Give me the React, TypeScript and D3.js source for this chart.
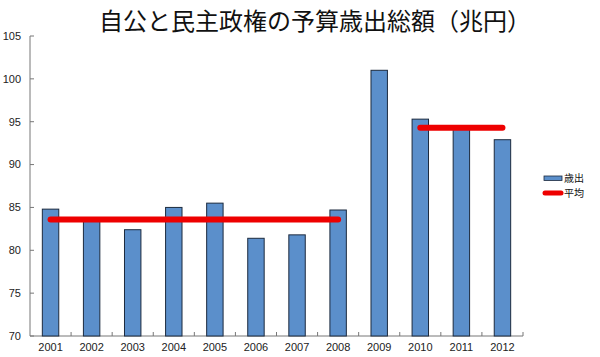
import React from "react";
import * as d3 from "d3";

const years = ["2001","2002","2003","2004","2005","2006","2007","2008","2009","2010","2011","2012"];
const spending = [84.8, 83.7, 82.4, 85.0, 85.5, 81.4, 81.8, 84.7, 101.0, 95.3, 94.3, 92.9];
const avgSegments = [
  { from: "2001", to: "2008", value: 83.6 },
  { from: "2010", to: "2012", value: 94.3 },
];
const yTicks = [70, 75, 80, 85, 90, 95, 100, 105];
const title = "自公と民主政権の予算歳出総額（兆円）";
const legendBar = "歳出";
const legendLine = "平均";

export default function App() {
  const W = 600, H = 357;
  const left = 30, right = 523, top = 36, bottom = 336;
  const x = d3.scaleBand<string>().domain(years).range([left, right]).paddingInner(0.6).paddingOuter(0.3);
  const xb = d3.scaleBand<string>().domain(years).range([left, right]);
  const y = d3.scaleLinear().domain([70, 105]).range([bottom, top]);
  const font = "'Liberation Sans', Arial, sans-serif";
  const cjk = "'Noto Sans CJK JP', sans-serif";
  return (
    <svg width={W} height={H} style={{ position: "absolute", left: 0, top: 0, background: "#fff" }}>
      <rect width={W} height={H} fill="#fff" />
      <text x={315} y={30} textAnchor="middle" fontSize={24} fontFamily={cjk} fill="#111">{title}</text>
      {/* axes */}
      <line x1={left} x2={left} y1={top} y2={bottom} stroke="#777" strokeWidth={1} />
      <line x1={left} x2={right} y1={bottom} y2={bottom} stroke="#777" strokeWidth={1} />
      {yTicks.map(t => (
        <g key={t}>
          <line x1={left} x2={left + 4} y1={y(t)} y2={y(t)} stroke="#777" />
          <text x={21} y={y(t)} dy="0.35em" textAnchor="end" fontSize={11} fontFamily={font} fill="#222">{t}</text>
        </g>
      ))}
      {years.map((yr) => (
        <g key={yr}>
          <line x1={(xb(yr) as number) + xb.bandwidth()} x2={(xb(yr) as number) + xb.bandwidth()} y1={bottom} y2={bottom - 4} stroke="#777" />
          <text x={(xb(yr) as number) + xb.bandwidth() / 2} y={bottom + 15} textAnchor="middle" fontSize={11} fontFamily={font} fill="#222">{yr}</text>
        </g>
      ))}
      {spending.map((v, i) => (
        <rect key={i} x={x(years[i])} y={y(v)} width={x.bandwidth()} height={bottom - y(v)}
          fill="#5b8fcb" stroke="#1c2a3e" strokeWidth={1} />
      ))}
      {avgSegments.map((s, i) => (
        <line key={i}
          x1={(xb(s.from) as number) + xb.bandwidth() / 2}
          x2={(xb(s.to) as number) + xb.bandwidth() / 2}
          y1={y(s.value)} y2={y(s.value)}
          stroke="#ee0000" strokeWidth={6} strokeLinecap="round" />
      ))}
      {/* legend */}
      <rect x={544} y={176} width={18} height={4.5} fill="#5b8fcb" stroke="#1c2a3e" strokeWidth={0.8} />
      <text x={564} y={182} fontSize={10} fontFamily={cjk} fill="#111">{legendBar}</text>
      <line x1={545} x2={561} y1={193} y2={193} stroke="#ee0000" strokeWidth={5} strokeLinecap="round" />
      <text x={564} y={197} fontSize={10} fontFamily={cjk} fill="#111">{legendLine}</text>
    </svg>
  );
}
